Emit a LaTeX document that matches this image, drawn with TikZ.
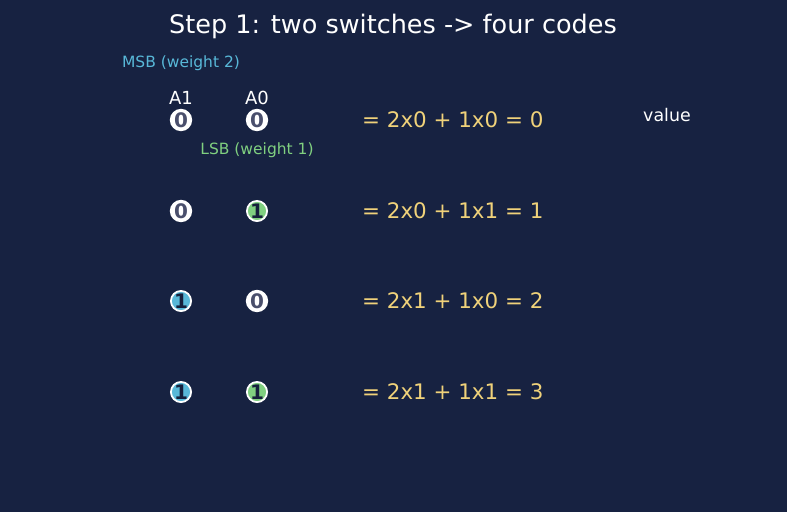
\documentclass[tikz,border=0pt]{standalone}
\usepackage{fontspec}
\setmainfont{DejaVu Sans}
\usetikzlibrary{positioning}
\definecolor{bg}{HTML}{172241}
\definecolor{msb}{HTML}{58B8D8}
\definecolor{lsb}{HTML}{80D080}
\definecolor{eqc}{HTML}{F0D27A}
\definecolor{zdig}{HTML}{4A4F6C}
\definecolor{ndig}{HTML}{16203C}
\newcommand{\fsz}[1]{\fontsize{#1}{#1}\selectfont}
\tikzset{
  bit/.style={circle,draw=white,line width=1.8pt,minimum size=20pt,inner sep=0pt,font=\fsz{20}\bfseries},
  zbit/.style={bit,fill=white,text=zdig},
  mbit/.style={bit,fill=msb,text=ndig},
  lbit/.style={bit,fill=lsb,text=ndig},
  eqn/.style={anchor=west,inner sep=0pt,text=eqc,font=\fsz{21.4}},
  lbl/.style={inner sep=0pt,text=white,font=\fsz{18}},
}

\begin{document}
\begin{tikzpicture}[x=1pt,y=-1pt]
\fill[bg] (0,0) rectangle (787,512);
\node[text=white,font=\fsz{25.5}] (title) at (393,26) {Step 1: two switches -> four codes};
% row 0
\node[zbit] (b10) at (181,120) {0};
\node[zbit] (b00) at (257,120) {0};
\node[lbl,above=4pt of b10] (a1) {A1};
\node[lbl,above=4pt of b00] (a0) {A0};
\node[text=msb,font=\fsz{15.5}] (msbl) at (181,63) {MSB (weight 2)};
\node[text=lsb,font=\fsz{15.5}] (lsbl) at (257,150) {LSB (weight 1)};
\node[eqn] (e0) at (362,120) {= 2x0 + 1x0 = 0};
\node[text=white,font=\fsz{17.4}] (val) at (667,115) {value};
% row 1
\node[zbit] (b11) at (181,211) {0};
\node[lbit] (b01) at (257,211) {1};
\node[eqn] (e1) at (362,211) {= 2x0 + 1x1 = 1};
% row 2
\node[mbit] (b12) at (181,301) {1};
\node[zbit] (b02) at (257,301) {0};
\node[eqn] (e2) at (362,301) {= 2x1 + 1x0 = 2};
% row 3
\node[mbit] (b13) at (181,392) {1};
\node[lbit] (b03) at (257,392) {1};
\node[eqn] (e3) at (362,392) {= 2x1 + 1x1 = 3};
\end{tikzpicture}
\end{document}
